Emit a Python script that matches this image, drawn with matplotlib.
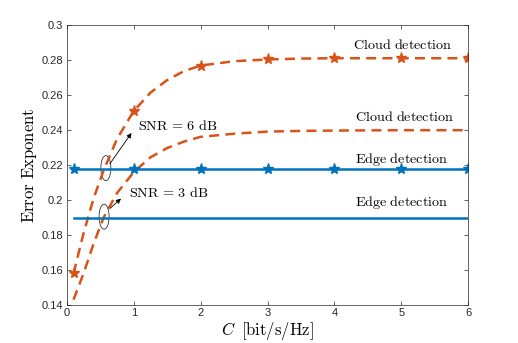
import numpy as np
import matplotlib.pyplot as plt
from matplotlib.patches import Ellipse

plt.rcParams['mathtext.fontset'] = 'cm'
plt.rcParams['font.family'] = ['Liberation Sans', 'DejaVu Sans']

# data
c_curve = [0.1, 0.25, 0.4, 0.55, 0.75, 1.0, 1.25, 1.5, 1.75, 2.0, 2.5, 3.0, 3.5, 4.0, 5.0, 6.0]
cloud_6db = [0.158, 0.181, 0.201, 0.217, 0.235, 0.251, 0.2615, 0.2687, 0.2738, 0.277, 0.2795,
             0.2805, 0.281, 0.2812, 0.2812, 0.2812]
cloud_3db = [0.143, 0.158, 0.175, 0.190, 0.204, 0.216, 0.2245, 0.2298, 0.2335, 0.2362, 0.238,
             0.2392, 0.2396, 0.2398, 0.240, 0.240]
c_marks = [0.1, 1, 2, 3, 4, 5, 6]
cloud_6db_marks = [0.158, 0.251, 0.277, 0.2805, 0.2812, 0.2812, 0.2812]
edge_6db = [0.218] * len(c_marks)
edge_3db_x = [0.1, 6]
edge_3db = [0.19, 0.19]

orange = '#D95319'
blue = '#0072BD'

fig = plt.figure(figsize=(5.18, 3.43), dpi=100)
ax = fig.add_axes([0.129, 0.111, 0.775, 0.815])

ax.plot(c_curve, cloud_6db, '--', color=orange, lw=1.8, dashes=(4, 2.5))
ax.plot(c_marks, cloud_6db_marks, '*', color=orange, ms=8)
ax.plot(c_curve, cloud_3db, '--', color=orange, lw=1.8, dashes=(4, 2.5))
ax.plot(c_marks, edge_6db, '-*', color=blue, lw=1.8, ms=8)
ax.plot(edge_3db_x, edge_3db, '-', color=blue, lw=1.8)

# text labels
fs = 10.2
ax.text(5.02, 0.2887, r'$\mathrm{Cloud\ detection}$', ha='center', va='center', fontsize=fs)
ax.text(5.05, 0.2477, r'$\mathrm{Cloud\ detection}$', ha='center', va='center', fontsize=fs)
ax.text(5.0, 0.2233, r'$\mathrm{Edge\ detection}$', ha='center', va='center', fontsize=fs)
ax.text(5.0, 0.1985, r'$\mathrm{Edge\ detection}$', ha='center', va='center', fontsize=fs)

# SNR annotations
ax.add_patch(Ellipse((0.583, 0.2183), 0.15, 0.0143, fill=False, lw=0.6, color='#333333'))
ax.add_patch(Ellipse((0.557, 0.1905), 0.15, 0.0143, fill=False, lw=0.6, color='#333333'))
ax.annotate('', xy=(0.99, 0.2397), xytext=(0.62, 0.2195),
            arrowprops=dict(arrowstyle='-|>', color='black', lw=0.6, mutation_scale=7))
ax.annotate('', xy=(0.84, 0.2019), xytext=(0.617, 0.1943),
            arrowprops=dict(arrowstyle='-|>', color='black', lw=0.6, mutation_scale=7))
ax.text(1.06, 0.2424, r'$\mathrm{SNR}\,=\,6\ \mathrm{dB}$', ha='left', va='center', fontsize=fs)
ax.text(0.93, 0.2039, r'$\mathrm{SNR}\,=\,3\ \mathrm{dB}$', ha='left', va='center', fontsize=fs)

ax.set_xlim(0, 6)
ax.set_ylim(0.14, 0.3)
ax.set_xticks(range(7))
ax.set_yticks([0.14, 0.16, 0.18, 0.2, 0.22, 0.24, 0.26, 0.28, 0.3])
ax.set_yticklabels(['0.14', '0.16', '0.18', '0.2', '0.22', '0.24', '0.26', '0.28', '0.3'])
ax.tick_params(direction='in', top=True, right=True, labelsize=8, colors='#262626',
               length=3, width=0.5, pad=2.5)
for s in ax.spines.values():
    s.set_color('#262626')
    s.set_linewidth(0.5)

ax.set_xlabel(r'$C\;\;\mathrm{[bit/s/Hz]}$', fontsize=12, labelpad=1)
ax.set_ylabel(r'$\mathrm{Error\ Exponent}$', fontsize=12, labelpad=2)

plt.savefig('out.png', dpi=100)
